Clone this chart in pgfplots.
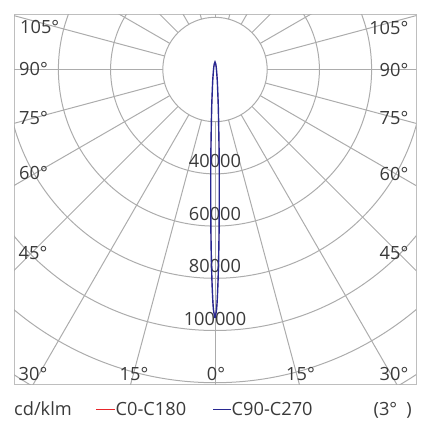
\documentclass[border=0pt]{standalone}
\usepackage{pgfplots}
\pgfplotsset{compat=1.18}
\usepackage{pgfplotstable}
\usepgfplotslibrary{polar}
\usepackage{fontspec}
\setmainfont{Open Sans}
\definecolor{gridgray}{RGB}{172,172,172}
\definecolor{boxgray}{RGB}{190,190,190}
\definecolor{txt}{RGB}{58,58,58}
\definecolor{cblue}{RGB}{40,40,145}
\definecolor{cred}{RGB}{232,38,43}

% gamma (deg), intensity (cd/klm)
\pgfplotstableread{
g I
0 95200
0.36 92200
0.55 88300
0.77 82600
0.96 76800
1.21 69200
1.53 59600
1.88 50000
2.32 40500
2.9 30900
3.8 21300
5.2 13700
7.5 7900
12 4100
34 1150
90 555
163 1400
174 2300
180 2900
-174 2300
-163 1400
-90 555
-34 1150
-12 4100
-7.5 7900
-5.2 13700
-3.8 21300
-2.9 30900
-2.32 40500
-1.88 50000
-1.53 59600
-1.21 69200
-0.96 76800
-0.77 82600
-0.55 88300
-0.36 92200
0 95200
}\beam

\begin{document}
\begin{tikzpicture}
\begin{axis}[
  at={(0,0)}, anchor=south west,
  scale only axis, width=402bp, height=370bp,
  xmin=-77011, xmax=77011, ymin=-120498, ymax=21264,
  xtick=\empty, ytick=\empty,
  axis line style={draw=boxgray, line width=1bp},
  clip=true,
]
\begin{scope}
\clip (rel axis cs:0,0) rectangle (rel axis cs:1,1);
\draw[gridgray, line width=1bp] (axis cs:0,0) circle[radius=52.2bp];
\draw[gridgray, line width=1bp] (axis cs:0,0) circle[radius=104.4bp];
\draw[gridgray, line width=1bp] (axis cs:0,0) circle[radius=156.6bp];
\draw[gridgray, line width=1bp] (axis cs:0,0) circle[radius=208.8bp];
\draw[gridgray, line width=1bp] (axis cs:0,0) circle[radius=261bp];
\draw[gridgray, line width=1bp] (axis cs:0,0) circle[radius=313.2bp];
\draw[gridgray, line width=1bp] (axis cs:0,0) circle[radius=365.4bp];
\draw[gridgray, line width=1bp] (axis cs:0,0) circle[radius=417.6bp];
\pgfplotsinvokeforeach{0,15,...,345}{\draw[gridgray, line width=1bp, shift={(axis cs:0,0)}] (#1:52.2bp) -- (#1:560bp);}
\end{scope}
\begin{scope}[every node/.style={font=\fontsize{18.2bp}{21bp}\selectfont, text=txt, inner sep=0pt}]
\node[yshift=-91bp] at (axis cs:0,0) {40000};
\node[yshift=-144.5bp] at (axis cs:0,0) {60000};
\node[yshift=-196.3bp] at (axis cs:0,0) {80000};
\node[yshift=-249.5bp] at (axis cs:0,0) {100000};
\end{scope}
\addplot[cred, line width=0.35bp, data cs=polar, smooth, tension=0.4] table[x expr=\thisrow{g}-90, y=I] {\beam};
\addplot[cblue, line width=1.4bp, data cs=polar, smooth, tension=0.4] table[x expr=\thisrow{g}-90, y=I] {\beam};
\end{axis}
\begin{scope}[x=1bp, y=-1bp, shift={(-14bp,384bp)}, every node/.style={font=\fontsize{18.2bp}{21bp}\selectfont, text=txt, inner sep=0pt}]
\path[use as bounding box] (0,0) rectangle (430,430);
% left angle labels
\node[anchor=west] at (20,26.5) {105°};
\node[anchor=west] at (19,68.8) {90°};
\node[anchor=west] at (19,118.3) {75°};
\node[anchor=west] at (19,173.3) {60°};
\node[anchor=west] at (18.5,252.5) {45°};
\node[anchor=west] at (18.5,374) {30°};
\node at (134,374) {15°};
\node at (216,374) {0°};
% right angle labels
\node[anchor=east] at (408.5,28) {105°};
\node[anchor=east] at (408.5,69.7) {90°};
\node[anchor=east] at (408.5,117.5) {75°};
\node[anchor=east] at (408.5,174) {60°};
\node[anchor=east] at (408.5,252.5) {45°};
\node[anchor=east] at (408.5,374) {30°};
\node at (300.5,374) {15°};
% legend
\node[anchor=base west] at (14,415) {cd/klm};
\draw[cred, line width=1.8bp] (96,409.5) -- (115,409.5);
\node[anchor=base west] at (115.5,415) {C0-C180};
\draw[cblue, line width=1.8bp] (213,409.5) -- (231,409.5);
\node[anchor=base west] at (231.5,415) {C90-C270};
\node[anchor=base west] at (373.5,415) {(3°\hspace{9bp})};
\end{scope}
\end{tikzpicture}
\end{document}
